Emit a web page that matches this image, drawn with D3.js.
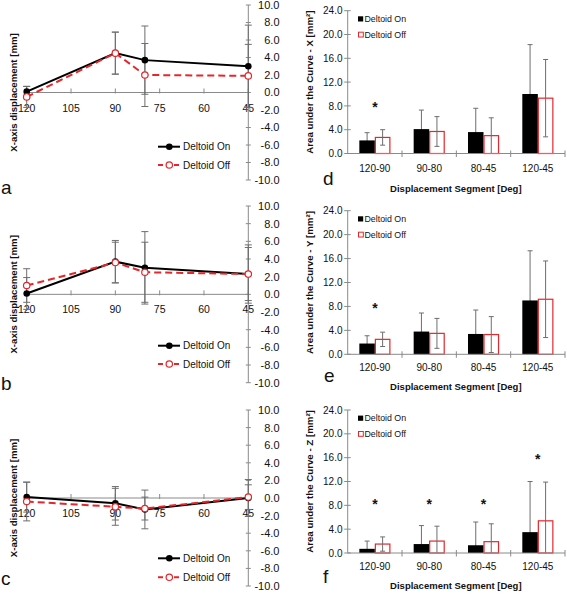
<!DOCTYPE html>
<html><head><meta charset="utf-8">
<script src="https://cdn.jsdelivr.net/npm/d3@7"></script>
<style>
body{margin:0;background:#fff;}
text{font-family:"Liberation Sans",Arial,sans-serif;}
</style></head>
<body>
<svg id="chart" width="567" height="595"></svg>
<script>
// ---------- data ----------
const angles = [120, 90, 80, 45];
const angleTicks = [120, 105, 90, 75, 60, 45];
const dispTicks = [10, 8, 6, 4, 2, 0, -2, -4, -6, -8, -10];

const aOn = [0.1, 4.5, 3.7, 3.0];
const aOnSD = [0.6, 2.4, 3.9, 4.7];
const aOff = [-0.5, 4.5, 2.0, 1.9];
const aOffSD = [1.2, 2.4, 3.6, 3.6];

const bOn = [0.1, 3.7, 3.0, 2.3];
const bOnSD = [1.8, 2.4, 4.1, 3.3];
const bOff = [1.0, 3.6, 2.5, 2.3];
const bOffSD = [1.9, 2.3, 3.4, 3.0];

const cOn = [0.1, -0.6, -1.3, 0.0];
const cOnSD = [1.7, 1.9, 2.2, 2.1];
const cOff = [-0.4, -1.0, -1.2, 0.1];
const cOffSD = [2.2, 2.1, 1.3, 1.4];

const segments = ["120-90", "90-80", "80-45", "120-45"];
const areaTicks = [0, 4, 8, 12, 16, 20, 24];

const dOn = [2.2, 4.1, 3.6, 10.0];
const dOnSD = [1.3, 3.2, 4.0, 8.3];
const dOff = [2.7, 3.7, 3.0, 9.3];
const dOffSD = [1.3, 2.5, 3.0, 6.5];
const dStars = [8.4, null, null, null];

const eOn = [1.8, 3.8, 3.4, 9.0];
const eOnSD = [1.3, 3.1, 4.0, 8.3];
const eOff = [2.5, 3.5, 3.3, 9.2];
const eOffSD = [1.2, 2.5, 3.0, 6.4];
const eStars = [8.2, null, null, null];

const fOn = [0.7, 1.5, 1.3, 3.5];
const fOnSD = [1.3, 3.1, 3.9, 8.5];
const fOff = [1.5, 2.0, 1.9, 5.4];
const fOffSD = [1.2, 2.5, 3.0, 6.5];
const fStars = [8.8, 8.8, 8.8, 16.2];

const seriesNames = ["Deltoid On", "Deltoid Off"];

// ---------- styles ----------
const RED = "#e5262b";
const AXIS = "#8a8a8a";
const ERR = "#6e6e6e";

const svg = d3.select("#chart");

// ---------- left line panels ----------
const xL = d3.scaleLinear().domain([120, 45]).range([26.7, 248.3]);

const leftPanels = [
  {lab:"a", on:aOn, onSD:aOnSD, off:aOff, offSD:aOffSD, top:5, bot:180, leg:[146.7,165], labY:194},
  {lab:"b", on:bOn, onSD:bOnSD, off:bOff, offSD:bOffSD, top:206, bot:382.7, leg:[345.7,364], labY:390},
  {lab:"c", on:cOn, onSD:cOnSD, off:cOff, offSD:cOffSD, top:410, bot:586, leg:[558.3,577.3], labY:585}
];

leftPanels.forEach(p => {
  const y = d3.scaleLinear().domain([10, -10]).range([p.top, p.bot]);
  const g = svg.append("g");
  const y0 = y(0);

  g.append("line").attr("x1", xL(120)).attr("x2", xL(45)).attr("y1", y0).attr("y2", y0)
    .attr("stroke", AXIS).attr("stroke-width", 1);
  angleTicks.forEach(t => {
    g.append("line").attr("x1", xL(t)).attr("x2", xL(t)).attr("y1", y0 - 4).attr("y2", y0 + 1)
      .attr("stroke", AXIS);
    g.append("text").attr("x", xL(t)).attr("y", y0 + 19).attr("text-anchor", "middle")
      .attr("font-size", "10.5px").attr("fill", "#111").text(t);
  });

  const xa = xL(45);
  g.append("line").attr("x1", xa).attr("x2", xa).attr("y1", y(10)).attr("y2", y(-10))
    .attr("stroke", AXIS);
  dispTicks.forEach(t => {
    g.append("line").attr("x1", xa - 2.5).attr("x2", xa + 2.5).attr("y1", y(t)).attr("y2", y(t))
      .attr("stroke", AXIS);
    g.append("text").attr("x", 279.5).attr("y", y(t)).attr("dy", "0.36em").attr("text-anchor", "end")
      .attr("font-size", "11px").attr("fill", "#111").text((t < 0 ? "-" : "") + Math.abs(t).toFixed(1));
  });

  g.append("text").attr("transform", `translate(13.5,${y0}) rotate(-90)`)
    .attr("text-anchor", "middle").attr("dy", "0.35em")
    .attr("font-size", "9.6px").attr("font-weight", "bold").attr("fill", "#111")
    .text("X-axis displacement [mm]");

  const errs = [[p.on, p.onSD], [p.off, p.offSD]];
  errs.forEach(([vals, sds]) => {
    angles.forEach((a, i) => {
      const x = xL(a), hi = y(vals[i] + sds[i]), lo = y(vals[i] - sds[i]);
      g.append("line").attr("x1", x).attr("x2", x).attr("y1", hi).attr("y2", lo).attr("stroke", ERR);
      [hi, lo].forEach(yy => g.append("line").attr("x1", x - 3.5).attr("x2", x + 3.5)
        .attr("y1", yy).attr("y2", yy).attr("stroke", ERR));
    });
  });

  const line = d3.line().x((d, i) => xL(angles[i])).y(d => y(d));
  g.append("path").datum(p.on).attr("d", line).attr("fill", "none").attr("stroke", "#000").attr("stroke-width", 2);
  g.append("path").datum(p.off).attr("d", line).attr("fill", "none").attr("stroke", RED)
    .attr("stroke-width", 2).attr("stroke-dasharray", "7,4");
  p.on.forEach((v, i) => g.append("circle").attr("cx", xL(angles[i])).attr("cy", y(v)).attr("r", 3.3).attr("fill", "#000"));
  p.off.forEach((v, i) => g.append("circle").attr("cx", xL(angles[i])).attr("cy", y(v)).attr("r", 3.2)
    .attr("fill", "#fff").attr("stroke", RED).attr("stroke-width", 1.2));

  const [l1, l2] = p.leg;
  g.append("line").attr("x1", 158).attr("x2", 180).attr("y1", l1).attr("y2", l1).attr("stroke", "#000").attr("stroke-width", 2);
  g.append("circle").attr("cx", 169.3).attr("cy", l1).attr("r", 3.3).attr("fill", "#000");
  g.append("text").attr("x", 183).attr("y", l1).attr("dy", "0.35em").attr("font-size", "10px").attr("fill", "#111").text(seriesNames[0]);
  g.append("line").attr("x1", 158).attr("x2", 180).attr("y1", l2).attr("y2", l2).attr("stroke", RED)
    .attr("stroke-width", 2).attr("stroke-dasharray", "5,3");
  g.append("circle").attr("cx", 169.3).attr("cy", l2).attr("r", 3.2).attr("fill", "#fff").attr("stroke", RED).attr("stroke-width", 1.2);
  g.append("text").attr("x", 183).attr("y", l2).attr("dy", "0.35em").attr("font-size", "10px").attr("fill", "#111").text(seriesNames[1]);

  g.append("text").attr("x", 1).attr("y", p.labY).attr("font-size", "19px").attr("fill", "#111").text(p.lab);
});

// ---------- right bar panels ----------
const xB = d3.scaleBand().domain(segments).range([347.7, 565]).padding(0);
const xS = d3.scaleBand().domain(seriesNames).range([0, xB.bandwidth()]).paddingInner(0).paddingOuter(0.75);

const rightPanels = [
  {lab:"d", axis:"X", on:dOn, onSD:dOnSD, off:dOff, offSD:dOffSD, stars:dStars, top:10.7, bot:153.5, catY:171.5, titleY:192, labX:323, labY:185},
  {lab:"e", axis:"Y", on:eOn, onSD:eOnSD, off:eOff, offSD:eOffSD, stars:eStars, top:210.7, bot:354.3, catY:371, titleY:390, labX:324, labY:382},
  {lab:"f", axis:"Z", on:fOn, onSD:fOnSD, off:fOff, offSD:fOffSD, stars:fStars, top:410, bot:553, catY:570, titleY:589, labX:323, labY:583}
];

rightPanels.forEach(p => {
  const y = d3.scaleLinear().domain([0, 24]).range([p.bot, p.top]);
  const g = svg.append("g");
  const ax = xB.range()[0];

  g.append("line").attr("x1", ax).attr("x2", ax).attr("y1", y(0)).attr("y2", y(24)).attr("stroke", AXIS);
  areaTicks.forEach(t => {
    g.append("line").attr("x1", ax - 3.5).attr("x2", ax + 3).attr("y1", y(t)).attr("y2", y(t)).attr("stroke", AXIS);
    g.append("text").attr("x", 342.5).attr("y", y(t)).attr("dy", "0.36em").attr("text-anchor", "end")
      .attr("font-size", "10px").attr("fill", "#111").text(t.toFixed(1));
  });
  g.append("text").attr("transform", `translate(310,${(y(0) + y(24)) / 2}) rotate(-90)`)
    .attr("text-anchor", "middle").attr("dy", "0.35em")
    .attr("font-size", "9.7px").attr("font-weight", "bold").attr("fill", "#111")
    .text(`Area under the Curve - ${p.axis} [mm²]`);

  function errBar(vals, sds, name) {
    segments.forEach((s, i) => {
      const cx = xB(s) + xS(name) + xS.bandwidth() / 2;
      const hi = y(vals[i] + sds[i]), lo = y(Math.max(0, vals[i] - sds[i]));
      g.append("line").attr("x1", cx).attr("x2", cx).attr("y1", hi).attr("y2", lo).attr("stroke", ERR);
      g.append("line").attr("x1", cx - 2.5).attr("x2", cx + 2.5).attr("y1", hi).attr("y2", hi).attr("stroke", ERR);
      if (vals[i] - sds[i] > 0)
        g.append("line").attr("x1", cx - 2.5).attr("x2", cx + 2.5).attr("y1", lo).attr("y2", lo).attr("stroke", ERR);
    });
  }

  // On: error bars beneath the solid bars
  errBar(p.on, p.onSD, seriesNames[0]);
  segments.forEach((s, i) => {
    const x0 = xB(s) + xS(seriesNames[0]), w = xS.bandwidth();
    g.append("rect").attr("x", x0).attr("y", y(p.on[i])).attr("width", w).attr("height", y(0) - y(p.on[i])).attr("fill", "#000");
  });
  // Off: open bars then error bars
  segments.forEach((s, i) => {
    const x0 = xB(s) + xS(seriesNames[1]), w = xS.bandwidth();
    g.append("rect").attr("x", x0 + 0.5).attr("y", y(p.off[i])).attr("width", w - 1).attr("height", y(0) - y(p.off[i]))
      .attr("fill", "#fff").attr("stroke", RED).attr("stroke-width", 1.2);
  });
  errBar(p.off, p.offSD, seriesNames[1]);

  g.append("line").attr("x1", ax).attr("x2", xB.range()[1]).attr("y1", y(0)).attr("y2", y(0)).attr("stroke", AXIS);
  segments.forEach(s => {
    const xr = xB(s) + xB.bandwidth();
    g.append("line").attr("x1", xr).attr("x2", xr).attr("y1", y(0) - 3).attr("y2", y(0) + 3.5).attr("stroke", AXIS);
    g.append("text").attr("x", xB(s) + xB.bandwidth() / 2).attr("y", p.catY).attr("text-anchor", "middle")
      .attr("font-size", "10px").attr("fill", "#111").text(s);
  });
  g.append("text").attr("x", (ax + xB.range()[1]) / 2 - 0.5).attr("y", p.titleY).attr("text-anchor", "middle")
    .attr("font-size", "9.5px").attr("font-weight", "bold").attr("fill", "#111").text("Displacement Segment [Deg]");

  p.stars.forEach((v, i) => {
    if (v == null) return;
    g.append("text").attr("x", xB(segments[i]) + xB.bandwidth() / 2).attr("y", y(v) + 8)
      .attr("text-anchor", "middle").attr("font-size", "14px").attr("font-weight", "bold").attr("fill", "#111").text("*");
  });

  const l1 = p.top + 8.3, l2 = p.top + 24;
  g.append("rect").attr("x", 358).attr("y", l1 - 2.7).attr("width", 5.2).attr("height", 5.2).attr("fill", "#000");
  g.append("rect").attr("x", 358.5).attr("y", l2 - 2.5).attr("width", 4.8).attr("height", 4.8).attr("fill", "#fff").attr("stroke", RED).attr("stroke-width", 1);
  g.append("text").attr("x", 364.5).attr("y", l1).attr("dy", "0.35em").attr("font-size", "8.8px").attr("fill", "#111").text(seriesNames[0]);
  g.append("text").attr("x", 364.5).attr("y", l2).attr("dy", "0.35em").attr("font-size", "8.8px").attr("fill", "#111").text(seriesNames[1]);

  g.append("text").attr("x", p.labX).attr("y", p.labY).attr("font-size", "19px").attr("fill", "#111").text(p.lab);
});
</script>
</body></html>
